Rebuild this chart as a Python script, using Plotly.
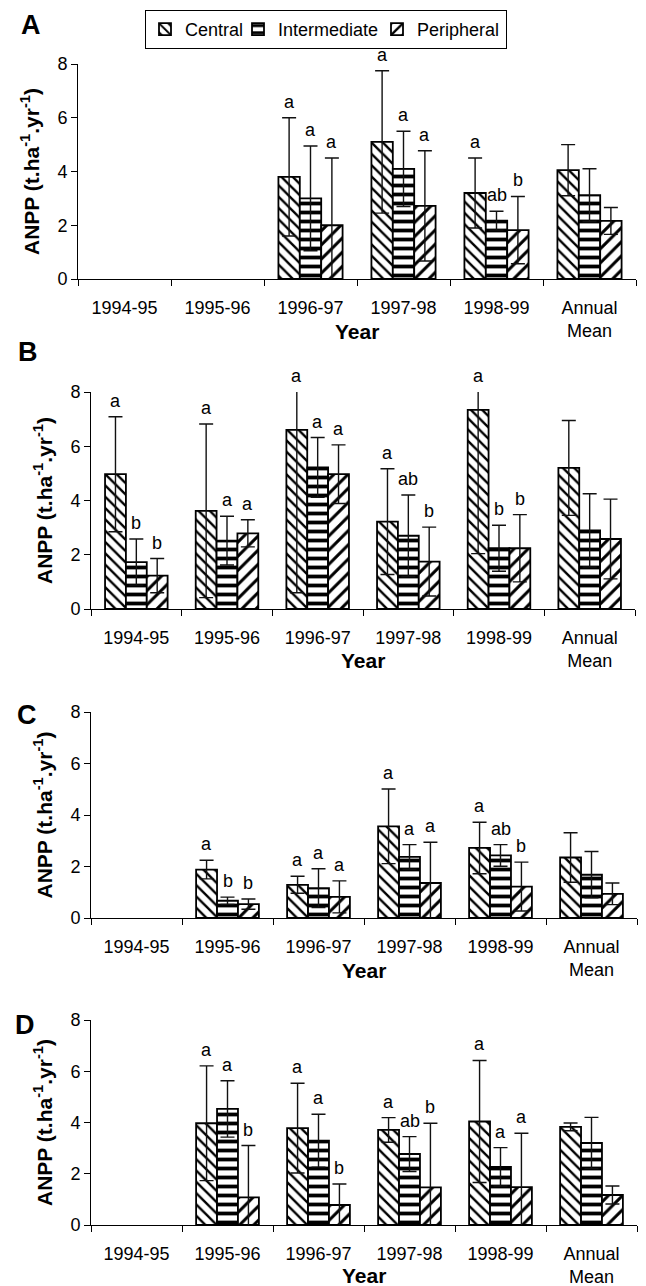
import plotly.graph_objects as go

W, H = 646, 1286

categories = ["1994-95", "1995-96", "1996-97", "1997-98", "1998-99", "Annual<br>Mean"]
series_names = ["Central", "Intermediate", "Peripheral"]
y_ticks = [0, 2, 4, 6, 8]

# Panel A
A_central = [None, None, 3.8, 5.1, 3.2, 4.05]
A_central_err = [None, None, 2.2, 2.65, 1.3, 0.95]
A_inter = [None, None, 3.0, 4.1, 2.17, 3.12]
A_inter_err = [None, None, 1.95, 1.4, 0.35, 0.98]
A_periph = [None, None, 2.0, 2.72, 1.82, 2.16]
A_periph_err = [None, None, 2.5, 2.05, 1.25, 0.5]
A_central_lab = ["", "", "a", "a", "a", ""]
A_inter_lab = ["", "", "a", "a", "ab", ""]
A_periph_lab = ["", "", "a", "a", "b", ""]

# Panel B
B_central = [4.97, 3.62, 6.6, 3.22, 7.34, 5.2]
B_central_err = [2.12, 3.2, 6.0, 1.95, 5.3, 1.75]
B_inter = [1.73, 2.52, 5.22, 2.7, 2.24, 2.9]
B_inter_err = [0.85, 0.9, 1.1, 1.5, 0.85, 1.35]
B_periph = [1.23, 2.79, 4.97, 1.75, 2.24, 2.58]
B_periph_err = [0.63, 0.5, 1.08, 1.27, 1.24, 1.47]
B_central_lab = ["a", "a", "a", "a", "a", ""]
B_inter_lab = ["b", "a", "a", "ab", "b", ""]
B_periph_lab = ["b", "a", "a", "b", "b", ""]

# Panel C
C_central = [None, 1.88, 1.29, 3.56, 2.72, 2.35]
C_central_err = [None, 0.36, 0.33, 1.45, 1.0, 0.96]
C_inter = [None, 0.67, 1.16, 2.37, 2.43, 1.68]
C_inter_err = [None, 0.14, 0.75, 0.48, 0.42, 0.9]
C_periph = [None, 0.54, 0.82, 1.36, 1.22, 0.94]
C_periph_err = [None, 0.2, 0.62, 1.58, 0.95, 0.42]
C_central_lab = ["", "a", "a", "a", "a", ""]
C_inter_lab = ["", "b", "a", "a", "ab", ""]
C_periph_lab = ["", "b", "a", "a", "b", ""]

# Panel D
D_central = [None, 3.97, 3.78, 3.71, 4.04, 3.83]
D_central_err = [None, 2.24, 1.75, 0.48, 2.38, 0.15]
D_inter = [None, 4.53, 3.29, 2.77, 2.27, 3.2]
D_inter_err = [None, 1.1, 1.03, 0.68, 0.75, 1.0]
D_periph = [None, 1.08, 0.78, 1.47, 1.48, 1.17]
D_periph_err = [None, 2.02, 0.82, 2.5, 2.1, 0.35]
D_central_lab = ["", "a", "a", "a", "a", ""]
D_inter_lab = ["", "a", "a", "ab", "a", ""]
D_periph_lab = ["", "b", "b", "b", "a", ""]

panels = [
    ("A", [(A_central, A_central_err, A_central_lab), (A_inter, A_inter_err, A_inter_lab), (A_periph, A_periph_err, A_periph_lab)]),
    ("B", [(B_central, B_central_err, B_central_lab), (B_inter, B_inter_err, B_inter_lab), (B_periph, B_periph_err, B_periph_lab)]),
    ("C", [(C_central, C_central_err, C_central_lab), (C_inter, C_inter_err, C_inter_lab), (C_periph, C_periph_err, C_periph_lab)]),
    ("D", [(D_central, D_central_err, D_central_lab), (D_inter, D_inter_err, D_inter_lab), (D_periph, D_periph_err, D_periph_lab)]),
]

# layout geometry in pixels: (x0, x1, ytop, ybottom)
boxes = [(78, 636, 64, 279), (91, 635, 392, 609), (91, 637, 712, 918), (91, 637, 1020, 1225)]
letter_pos = [(31, 25), (28, 352), (27, 715), (25, 1025)]
year_y = [332, 660, 970, 1275]

patterns = [
    dict(shape="\\", fgcolor="black", bgcolor="white", size=8, solidity=0.3),
    dict(shape="-", fgcolor="black", bgcolor="white", size=9, solidity=0.42),
    dict(shape="/", fgcolor="black", bgcolor="white", size=10, solidity=0.3),
]
legend_widths = [48, 94, 84]

FONT = "Liberation Sans, Arial, sans-serif"
BARGAP = 0.31

def px_x(p):
    return p / W

def px_y(p):
    return 1 - p / H

fig = go.Figure()
annotations = []
layout_axes = {}

for i, (letter, series) in enumerate(panels):
    n = "" if i == 0 else str(i + 1)
    xref, yref = "x" + n, "y" + n
    x0, x1, yt, yb = boxes[i]
    for k, (vals, errs, labs) in enumerate(series):
        fig.add_trace(go.Bar(
            x=categories, y=vals, name=series_names[k],
            xaxis=xref, yaxis=yref,
            legendgroup=series_names[k], showlegend=(i == 0), legendwidth=legend_widths[k],
            marker=dict(color="white", line=dict(color="black", width=1.8), pattern=patterns[k]),
            error_y=dict(type="data", array=errs, visible=True, color="#111", thickness=1.4, width=7),
        ))
        catw = (x1 - x0) / len(categories)
        barw = catw * (1 - BARGAP) / 3
        for c, lab in enumerate(labs):
            if lab and vals[c] is not None:
                top = min(vals[c] + errs[c], 8)
                annotations.append(dict(
                    x=categories[c], y=top, xref=xref, yref=yref, text=lab, showarrow=False,
                    xshift=(k - 1) * barw, yshift=4, yanchor="bottom",
                    font=dict(family=FONT, size=18, color="black"),
                ))
    layout_axes["xaxis" + n] = dict(
        domain=[px_x(x0), px_x(x1)], anchor=yref, type="category", automargin=False,
        categoryorder="array", categoryarray=categories, range=[-0.5, 5.5],
        showline=True, linecolor="black", linewidth=1, ticks="outside", tickson="boundaries",
        ticklen=6, tickcolor="black", showgrid=False, zeroline=False,
        tickfont=dict(family=FONT, size=18, color="black"), ticklabelstandoff=12,
    )
    layout_axes["yaxis" + n] = dict(
        domain=[px_y(yb), px_y(yt)], anchor=xref, range=[0, 8], tickvals=y_ticks, automargin=False,
        showline=True, linecolor="black", linewidth=1, ticks="outside", ticklen=6,
        tickcolor="black", showgrid=False, zeroline=False,
        tickfont=dict(family=FONT, size=18, color="black"),
        title=dict(text="<b>ANPP (t.ha<sup>-1</sup>.yr<sup>-1</sup>)</b>",
                   font=dict(family=FONT, size=21, color="black"), standoff=12),
    )
    annotations.append(dict(
        x=px_x(letter_pos[i][0]), y=px_y(letter_pos[i][1]), xref="paper", yref="paper",
        text="<b>%s</b>" % letter, showarrow=False, xanchor="center", yanchor="middle",
        font=dict(family=FONT, size=27, color="black"),
    ))
    annotations.append(dict(
        x=px_x((x0 + x1) / 2), y=px_y(year_y[i]), xref="paper", yref="paper",
        text="<b>Year</b>", showarrow=False, xanchor="center", yanchor="middle",
        font=dict(family=FONT, size=21, color="black"),
    ))

fig.update_layout(
    template="none",
    width=W, height=H, margin=dict(l=0, r=0, t=0, b=0, autoexpand=False),
    paper_bgcolor="white", plot_bgcolor="white",
    barmode="group", bargap=BARGAP, bargroupgap=0,
    font=dict(family=FONT, size=18, color="black"),
    legend=dict(orientation="h", x=px_x(145), xanchor="left", y=px_y(10), yanchor="top",
                bordercolor="black", borderwidth=1, bgcolor="white",
                font=dict(family=FONT, size=18, color="black"),
                itemwidth=30, tracegroupgap=0),
    annotations=annotations,
    **layout_axes,
)

fig.write_html("out.html", config={"displayModeBar": False},
               post_script="document.body.style.margin='0';")
